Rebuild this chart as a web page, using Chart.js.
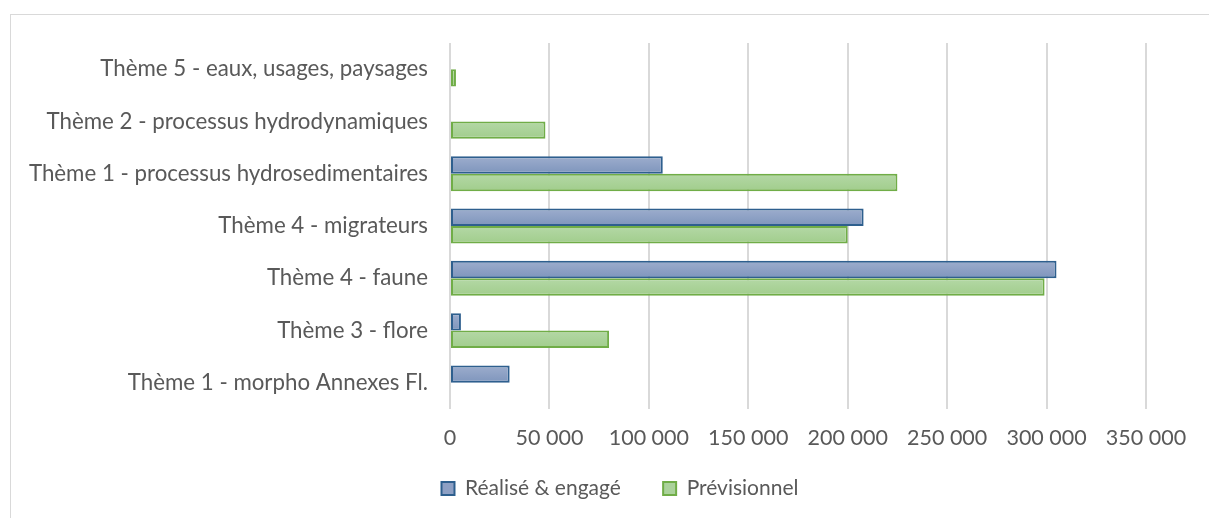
<!DOCTYPE html>
<html>
<head>
<meta charset="utf-8">
<script src="https://cdn.jsdelivr.net/npm/chart.js@4/dist/chart.umd.min.js"></script>
<style>
  html,body{margin:0;padding:0;background:#fff;}
  #wrap{position:relative;width:1209px;height:518px;overflow:hidden;}
  #frame{position:absolute;left:10px;top:14px;width:1300px;height:600px;border:1px solid #d9d9d9;box-sizing:border-box;}
  canvas{position:absolute;left:0;top:0;}
</style>
</head>
<body>
<div id="wrap">
<div id="frame"></div>
<canvas id="c" width="1209" height="518"></canvas>
</div>
<script>
const categories = [
  "Thème 5 - eaux, usages, paysages",
  "Thème 2 - processus hydrodynamiques",
  "Thème 1 - processus hydrosedimentaires",
  "Thème 4 - migrateurs",
  "Thème 4 - faune",
  "Thème 3 - flore",
  "Thème 1 - morpho Annexes Fl."
];
const realiseEngage = [0, 0, 107000, 208000, 305000, 5500, 30000];
const previsionnel = [3000, 48000, 225000, 200000, 299000, 80000, 0];
const seriesNames = ["Réalisé & engagé", "Prévisionnel"];

const FONT = "Lato, 'Open Sans', sans-serif";
const fmt = v => v.toLocaleString('fr-FR').replace(/\u202f|\u00a0/g, ' ');
const CAT_PCT = 0.667;

function barGradient(top, bottom, flat) {
  return ctx => {
    const chart = ctx.chart;
    const y = chart.scales && chart.scales.y;
    if (ctx.type !== 'data' || !y || y.height == null || isNaN(y.getPixelForValue(0))) return flat;
    const c = y.getPixelForValue(ctx.dataIndex);
    const band = Math.abs(y.getPixelForValue(1) - y.getPixelForValue(0));
    const h = band * CAT_PCT / 2;
    const y0 = ctx.datasetIndex === 0 ? c - h : c;
    const g = chart.ctx.createLinearGradient(0, y0, 0, y0 + h);
    g.addColorStop(0, top);
    g.addColorStop(1, bottom);
    return g;
  };
}

const legendShift = {
  id: 'legendShift',
  afterLayout(chart) { if (chart.legend) { chart.legend.left += 94; } }
};

new Chart(document.getElementById('c'), {
  type: 'bar',
  data: {
    labels: categories,
    datasets: [
      { label: seriesNames[0], data: realiseEngage, backgroundColor: barGradient('#9dadcd', '#7e95bc', '#8ea0c4'), borderColor: '#2e5f8e', borderWidth: 2, borderSkipped: false },
      { label: seriesNames[1], data: previsionnel, backgroundColor: barGradient('#b4d8a6', '#a1cd8c', '#abd29b'), borderColor: '#70ad47', borderWidth: 2, borderSkipped: false }
    ]
  },
  plugins: [legendShift],
  options: {
    indexAxis: 'y',
    responsive: false,
    animation: false,
    datasets: { bar: { categoryPercentage: CAT_PCT, barPercentage: 1.0 } },
    layout: { padding: { top: 43, right: 63, bottom: 9, left: 0 } },
    scales: {
      x: {
        min: 0, max: 350000,
        ticks: { stepSize: 50000, color: '#595959', font: { family: FONT, size: 21.5 }, padding: 16, callback: v => fmt(v) },
        grid: { color: '#d9d9d9', lineWidth: 2, drawTicks: false },
        border: { display: false },
        afterFit: s => { s.height = 59; }
      },
      y: {
        ticks: { color: '#595959', font: { family: FONT, size: 22.3 }, padding: 22 },
        grid: { display: false, drawTicks: false },
        border: { display: false },
        afterFit: s => { s.width = 450; }
      }
    },
    plugins: {
      legend: {
        position: 'bottom',
        labels: {
          color: '#595959', font: { family: FONT, size: 21 }, boxWidth: 13, boxHeight: 13, padding: 10,
          generateLabels: chart => {
            const items = Chart.defaults.plugins.legend.labels.generateLabels(chart);
            const flats = ['#8ea0c4', '#abd29b'];
            items.forEach((it, i) => {
              if (i < items.length - 1) it.text = it.text + '      ';
              it.lineWidth = 2;
              it.fillStyle = flats[i];
            });
            return items;
          }
        }
      },
      tooltip: { enabled: false }
    }
  }
});
</script>
</body>
</html>
